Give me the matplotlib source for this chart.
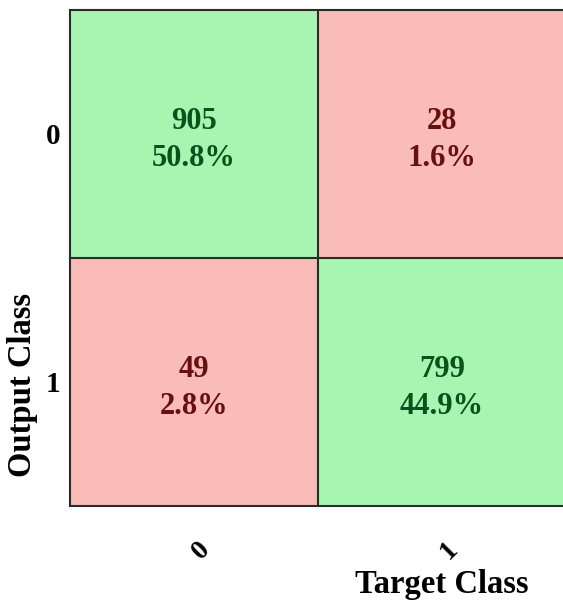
import matplotlib
matplotlib.use("Agg")
import matplotlib.pyplot as plt
import numpy as np
from matplotlib.colors import ListedColormap
from matplotlib.transforms import ScaledTranslation

classes = ["0", "1"]
counts = [[905, 28], [49, 799]]
percents = [[50.8, 1.6], [2.8, 44.9]]
x_label = "Target Class"
y_label = "Output Class"

green = "#a6f6b1"
red = "#f9bcb8"
green_txt = "#0a521c"
red_txt = "#661010"

plt.rcParams['font.family'] = ['Liberation Serif', 'DejaVu Serif']
plt.rcParams['font.weight'] = 'bold'

fig = plt.figure(figsize=(5.63, 6.03), dpi=100)
ax = fig.add_axes([70/563, 97/603, 496/563, 496/603])

n = len(classes)
mask = np.array([[1 if i == j else 0 for j in range(n)] for i in range(n)])
ax.imshow(mask, cmap=ListedColormap([red, green]), vmin=0, vmax=1, aspect='auto')

for i in range(n):
    for j in range(n):
        c = green_txt if i == j else red_txt
        ax.text(j, i - 0.05, f"{counts[i][j]}", ha='center', va='center',
                fontsize=22, fontweight='bold', color=c)
        ax.text(j, i + 0.10, f"{percents[i][j]}%", ha='center', va='center',
                fontsize=22, fontweight='bold', color=c)

ax.axhline(0.5, color='#2b2b2b', lw=1.5)
ax.axvline(0.5, color='#2b2b2b', lw=1.5)
for s in ax.spines.values():
    s.set_color('#2b2b2b')
    s.set_linewidth(1.5)

ax.set_xticks(range(n))
ax.set_xticklabels(classes, rotation=45, fontsize=20, fontweight='bold')
ax.set_yticks(range(n))
ax.set_yticklabels(classes, fontsize=21, fontweight='bold')
ax.tick_params(length=0)
ax.tick_params(axis='x', pad=20)
ax.tick_params(axis='y', pad=7)
shift = ScaledTranslation(7/100, -3/100, fig.dpi_scale_trans)
for lab in ax.get_xticklabels():
    lab.set_transform(lab.get_transform() + shift)

ax.set_xlabel(x_label, fontsize=23.5, fontweight='bold')
ax.xaxis.set_label_coords((441.5-70)/496, (506-593)/496)
ax.xaxis.label.set_va('baseline')
ax.set_ylabel(y_label, fontsize=23.5, fontweight='bold')
ax.yaxis.set_label_coords((23-70)/496, (506-385)/496)
ax.yaxis.label.set_va('center')

fig.savefig("out.png", dpi=100)
